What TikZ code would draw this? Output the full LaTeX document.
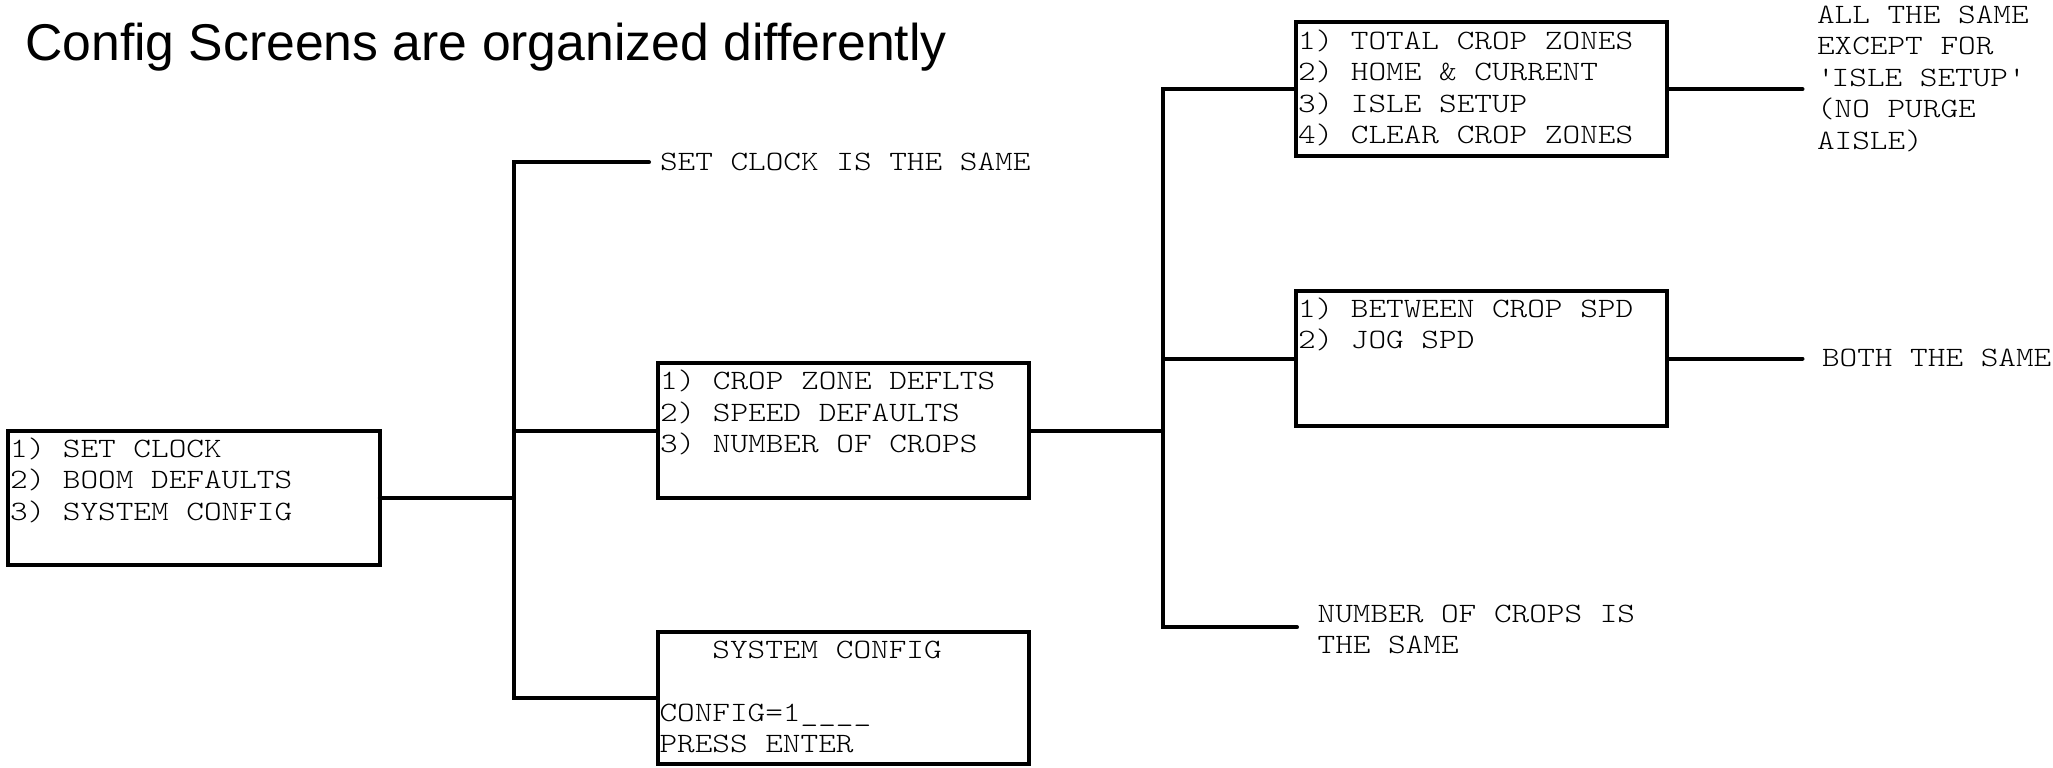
\documentclass[tikz,border=0pt]{standalone}
\usepackage{fontspec}
\setmainfont{Liberation Sans}
\newfontfamily\monof[FakeStretch=1.2]{lmmonolt10-regular.otf}
\newcommand\monotext{\monof\fontsize{28}{31.5}\selectfont\lineskiplimit=-100pt}
\tikzset{
  screen/.style={draw, line width=4pt, rectangle, inner sep=0pt, outer sep=0pt, anchor=north west},
  wire/.style={line width=4pt, line cap=round, line join=miter},
  boxtxt/.style={inner sep=0pt, outer sep=0pt, anchor=base west, font=\monotext},
  notetxt/.style={inner sep=0pt, outer sep=0pt, anchor=base west, font=\monotext},
}
\begin{document}
\begin{tikzpicture}[x=1pt,y=-1pt]
\fill[white] (0,0) rectangle (2053,768);
\useasboundingbox (0,0) rectangle (2053,768);

% title
\node[inner sep=0pt, anchor=base west, font=\fontsize{51.7}{60}\selectfont] (title) at (25,60) {Config Screens are organized differently};

% boxes
\node[screen, minimum width=371.5pt, minimum height=134.5pt] (A) at (8.3,430.7) {};
\node[screen, minimum width=371pt, minimum height=135pt] (B) at (658,363.3) {};
\node[screen, minimum width=371pt, minimum height=132pt] (C) at (657.5,632.3) {};
\node[screen, minimum width=371pt, minimum height=133.5pt] (D) at (1296,22.3) {};
\node[screen, minimum width=371pt, minimum height=135pt] (E) at (1296,291) {};

% box texts
\node[boxtxt] (At) at (10,457) {\vtop{\hbox{1) SET CLOCK}\hbox{2) BOOM DEFAULTS}\hbox{3) SYSTEM CONFIG}}};
\node[boxtxt] (Bt) at (660,389.5) {\vtop{\hbox{1) CROP ZONE DEFLTS}\hbox{2) SPEED DEFAULTS}\hbox{3) NUMBER OF CROPS}}};
\node[boxtxt] (Ct) at (659.5,658.3) {\vtop{\hbox{\phantom{XXX}SYSTEM CONFIG}\hbox{}\hbox{CONFIG=1\_\_\_\_}\hbox{PRESS ENTER}}};
\node[boxtxt] (Dt) at (1298,49) {\vtop{\hbox{1) TOTAL CROP ZONES}\hbox{2) HOME \& CURRENT}\hbox{3) ISLE SETUP}\hbox{4) CLEAR CROP ZONES}}};
\node[boxtxt] (Et) at (1298,317) {\vtop{\hbox{1) BETWEEN CROP SPD}\hbox{2) JOG SPD}}};

% annotations
\node[notetxt] (sct) at (660,170) {SET CLOCK IS THE SAME};
\node[notetxt] (adt) at (1817,23.5) {\vtop{\hbox{ALL THE SAME}\hbox{EXCEPT FOR}\hbox{\textquotesingle ISLE SETUP\textquotesingle}\hbox{(NO PURGE}\hbox{AISLE)}}};
\node[notetxt] (bst) at (1822,366) {BOTH THE SAME};
\node[notetxt] (nct) at (1317.6,622) {\vtop{\hbox{NUMBER OF CROPS IS}\hbox{THE SAME}}};

% trunk positions and free ends
\coordinate (tr1) at (514,0);
\coordinate (tr2) at (1163,0);
\coordinate (sc) at (649,162.3);
\coordinate (nc) at (1297,627.3);
\coordinate (ad) at (1802.5,0);

% first level connectors
\draw[wire] (A.east) -- (A.east -| tr1);
\draw[wire] (sc) -- (sc -| tr1) -- (C.west -| tr1) -- (C.west);
\draw[wire] (B.west -| tr1) -- (B.west);

% second level connectors
\draw[wire] (B.east) -- (B.east -| tr2);
\draw[wire] (D.west) -- (D.west -| tr2) -- (nc -| tr2) -- (nc);
\draw[wire] (E.west -| tr2) -- (E.west);

% right connectors
\draw[wire] (D.east) -- (D.east -| ad);
\draw[wire] (E.east) -- (E.east -| ad);
\end{tikzpicture}
\end{document}
